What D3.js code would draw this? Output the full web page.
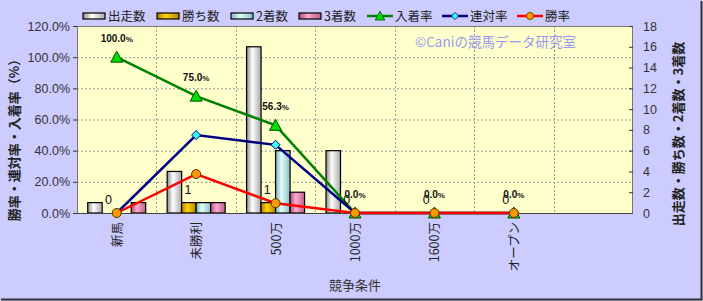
<!DOCTYPE html>
<html>
<head>
<meta charset="utf-8">
<script src="https://cdn.jsdelivr.net/npm/d3@7"></script>
<style>
  body { margin: 0; background: #ccccff; }
  svg { display: block; font-family: "Noto Sans CJK JP", "DejaVu Sans", sans-serif; }
</style>
</head>
<body>
<svg id="chart" width="703" height="301"></svg>
<script>
// data
const categories = ['新馬', '未勝利', '500万', '1000万', '1600万', 'オープン', ''];
const starts = [1, 4, 16, 6, 0, 0];
const wins = [0, 1, 1, 0, 0, 0];
const seconds = [0, 1, 6, 0, 0, 0];
const thirds = [1, 1, 2, 0, 0, 0];
const top3Rate = [100, 75, 56.25, 0, 0, 0];
const placeRate = [0, 50, 43.75, 0, 0, 0];
const winRate = [0, 25, 6.25, 0, 0, 0];
const leftTicks = [0, 20, 40, 60, 80, 100, 120];
const rightTicks = [0, 2, 4, 6, 8, 10, 12, 14, 16, 18];

const barSeries = [
  { name: '出走数', values: starts, grad: 'g0', stops: ['#8c8c8c', '#ffffff', '#a8a8a8'] },
  { name: '勝ち数', values: wins, grad: 'g1', stops: ['#b08000', '#ffd200', '#b38600'] },
  { name: '2着数', values: seconds, grad: 'g2', stops: ['#80b0b0', '#dfffff', '#8fbcbc'] },
  { name: '3着数', values: thirds, grad: 'g3', stops: ['#b0507a', '#ffaad0', '#c0608a'] }
];
const lineSeries = [
  { name: '入着率', values: top3Rate, color: '#008000', fill: '#00dd00', stroke: '#005000', shape: 'tri' },
  { name: '連対率', values: placeRate, color: '#000080', fill: '#33ffff', stroke: '#000080', shape: 'dia' },
  { name: '勝率', values: winRate, color: '#ff0000', fill: '#ff9900', stroke: '#553300', shape: 'circ' }
];

const W = 703, H = 301;
const m = { left: 77, right: 70, top: 26, bottom: 88 };
const svg = d3.select('#chart');

// outer frame shadow
svg.append('rect').attr('width', W).attr('height', H).attr('fill', '#ccccff');
svg.append('path').attr('d', `M1,${H - 1.5}H${W - 1.5}V1`).attr('fill', 'none').attr('stroke', '#333').attr('stroke-width', 2);

const defs = svg.append('defs');
barSeries.forEach(s => {
  const g = defs.append('linearGradient').attr('id', s.grad).attr('x1', 0).attr('x2', 1).attr('y1', 0).attr('y2', 0);
  g.append('stop').attr('offset', 0).attr('stop-color', s.stops[0]);
  g.append('stop').attr('offset', 0.4).attr('stop-color', s.stops[1]);
  g.append('stop').attr('offset', 1).attr('stop-color', s.stops[2]);
});

const x = d3.scaleBand().domain(categories.map((c, i) => i)).range([m.left, W - m.right]);
const xSub = d3.scaleBand().domain(d3.range(4)).range([0, x.bandwidth() * 0.73]);
const subOff = (x.bandwidth() - xSub.range()[1]) / 2;
const yL = d3.scaleLinear().domain([0, 120]).range([H - m.bottom, m.top]);
const yR = d3.scaleLinear().domain([0, 18]).range([H - m.bottom, m.top]);

// plot area
svg.append('rect').attr('x', m.left).attr('y', m.top)
  .attr('width', W - m.left - m.right).attr('height', H - m.top - m.bottom)
  .attr('fill', '#ffffcc');

// grid
svg.append('g').selectAll('line').data(leftTicks.slice(1))
  .enter().append('line')
  .attr('x1', m.left).attr('x2', W - m.right)
  .attr('y1', d => yL(d) + 0.5).attr('y2', d => yL(d) + 0.5)
  .attr('stroke', '#999').attr('stroke-dasharray', '2,2');
svg.append('g').selectAll('line').data(d3.range(1, categories.length))
  .enter().append('line')
  .attr('x1', d => Math.round(x(d)) + 0.5).attr('x2', d => Math.round(x(d)) + 0.5)
  .attr('y1', m.top).attr('y2', H - m.bottom)
  .attr('stroke', '#999').attr('stroke-dasharray', '2,2');

svg.append('rect').attr('x', m.left + 0.5).attr('y', m.top + 0.5)
  .attr('width', W - m.left - m.right - 1).attr('height', H - m.top - m.bottom)
  .attr('fill', 'none').attr('stroke', '#777');

// watermark
svg.append('text').attr('x', 415).attr('y', 47).attr('font-size', 13.5)
  .attr('fill', '#9999ee').text('©Caniの競馬データ研究室');

// bars
barSeries.forEach((s, k) => {
  svg.append('g').selectAll('rect').data(s.values)
    .enter().append('rect')
    .attr('x', (d, i) => x(i) + subOff + xSub(k))
    .attr('width', xSub.bandwidth())
    .attr('y', d => yR(d))
    .attr('height', d => yR(0) - yR(d))
    .attr('fill', `url(#${s.grad})`)
    .attr('stroke', '#000').attr('stroke-width', 1.2);
});

// axes
const axisL = d3.axisLeft(yL).tickValues(leftTicks).tickFormat(d => d.toFixed(1) + '%').tickSize(4);
const gL = svg.append('g').attr('transform', `translate(${m.left},0)`).call(axisL);
const axisR = d3.axisRight(yR).tickValues(rightTicks).tickSize(0).tickPadding(10);
const gR = svg.append('g').attr('transform', `translate(${W - m.right},0)`).call(axisR);
[gL, gR].forEach(g => {
  g.select('.domain').remove();
  g.selectAll('text').attr('font-size', 12.5).attr('fill', '#333')
    .attr('font-family', '"Liberation Sans", Arial, sans-serif');
  g.selectAll('line').attr('stroke', '#333');
});
gR.selectAll('.tick').append('line').attr('x1', -4).attr('x2', 0).attr('stroke', '#333');

svg.append('line').attr('x1', m.left).attr('x2', W - m.right)
  .attr('y1', H - m.bottom + 0.5).attr('y2', H - m.bottom + 0.5).attr('stroke', '#444');

// x labels
svg.append('g').selectAll('text').data(categories)
  .enter().append('text')
  .attr('transform', (d, i) => `translate(${x(i) + x.bandwidth() / 2 + 5},${H - m.bottom + 9}) rotate(-90)`)
  .attr('text-anchor', 'end').attr('font-size', 12.5).attr('fill', '#222')
  .text(d => d);

// axis titles
svg.append('text').attr('x', 355).attr('y', 290).attr('text-anchor', 'middle')
  .attr('font-size', 13).attr('fill', '#333').text('競争条件');
svg.append('text').attr('transform', 'translate(19,137) rotate(-90)')
  .attr('text-anchor', 'middle').attr('font-size', 13).attr('font-weight', 'bold').attr('fill', '#222')
  .text('勝率・連対率・入着率（%）');
svg.append('text').attr('transform', 'translate(683,134) rotate(-90)')
  .attr('text-anchor', 'middle').attr('font-size', 13).attr('font-weight', 'bold').attr('fill', '#222')
  .text('出走数・勝ち数・2着数・3着数');

// markers
function marker(g, shape, fill, stroke) {
  if (shape === 'tri') {
    g.append('path').attr('d', 'M0,-6L6,5H-6Z').attr('fill', fill).attr('stroke', stroke).attr('stroke-width', 1);
  } else if (shape === 'dia') {
    g.append('path').attr('d', 'M0,-4.5L4.5,0L0,4.5L-4.5,0Z').attr('fill', fill).attr('stroke', stroke).attr('stroke-width', 1);
  } else {
    g.append('circle').attr('r', 4.5).attr('fill', fill).attr('stroke', stroke).attr('stroke-width', 1);
  }
}

// lines
const cx = i => x(i) + x.bandwidth() / 2;
lineSeries.forEach(s => {
  const line = d3.line().x((d, i) => cx(i)).y(d => yL(d));
  svg.append('path').datum(s.values).attr('d', line)
    .attr('fill', 'none').attr('stroke', s.color).attr('stroke-width', 2.5);
  s.values.forEach((v, i) => {
    const g = svg.append('g').attr('transform', `translate(${cx(i)},${yL(v)})`);
    marker(g, s.shape, s.fill, s.stroke);
  });
});

// win count labels
svg.append('g').selectAll('text').data(wins)
  .enter().append('text')
  .attr('x', (d, i) => x(i) + subOff + xSub(1) + xSub.bandwidth() / 2 - 1)
  .attr('y', d => yR(d) - 9)
  .attr('text-anchor', 'middle').attr('font-size', 12.5).attr('fill', '#111')
  .attr('font-family', '"Liberation Sans", Arial, sans-serif')
  .text(d => d);

// top3 rate labels
const lbl = svg.append('g').selectAll('text').data(top3Rate)
  .enter().append('text')
  .attr('x', (d, i) => cx(i))
  .attr('y', d => yL(d) - 15)
  .attr('text-anchor', 'middle').attr('font-size', 10).attr('font-weight', 'bold').attr('fill', '#111')
  .attr('font-family', '"Liberation Sans", Arial, sans-serif');
lbl.append('tspan').text(d => d.toFixed(1));
lbl.append('tspan').attr('font-size', 8).text('%');

// legend
const leg = svg.append('g').attr('font-size', 12.5).attr('fill', '#222');
const legX = [83, 157, 231, 299];
barSeries.forEach((s, k) => {
  leg.append('rect').attr('x', legX[k]).attr('y', 13).attr('width', 22).attr('height', 6)
    .attr('fill', `url(#${s.grad})`).attr('stroke', '#000').attr('stroke-width', 1.2);
  leg.append('text').attr('x', legX[k] + 25).attr('y', 21).text(s.name);
});
const legLX = [367, 442, 517];
lineSeries.forEach((s, k) => {
  leg.append('line').attr('x1', legLX[k]).attr('x2', legLX[k] + 26).attr('y1', 16).attr('y2', 16)
    .attr('stroke', s.color).attr('stroke-width', 2.5);
  const g = leg.append('g').attr('transform', `translate(${legLX[k] + 13},16) scale(0.8)`);
  marker(g, s.shape, s.fill, s.stroke);
  leg.append('text').attr('x', legLX[k] + 28).attr('y', 21).text(s.name);
});
</script>
</body>
</html>
